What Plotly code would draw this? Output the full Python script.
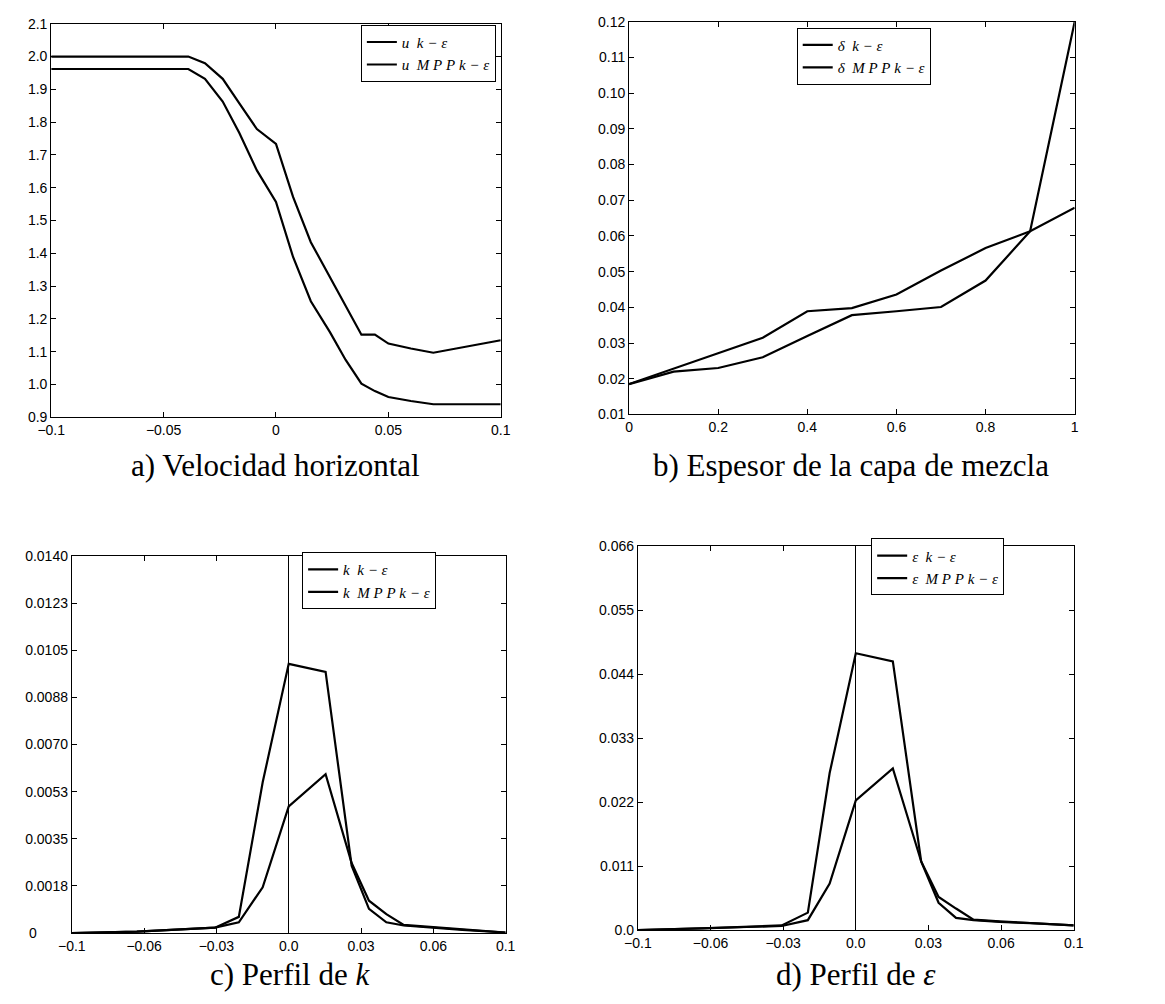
import plotly.graph_objects as go

# ---------------- data ----------------
# a) horizontal velocity
a_x = [-0.1, -0.039, -0.0316, -0.0237, -0.0163, -0.0085, 0.0, 0.0076, 0.0155,
       0.024, 0.031, 0.038, 0.044, 0.05, 0.06, 0.07, 0.1]
a_u_ke = [1.962, 1.962, 1.932, 1.863, 1.767, 1.653, 1.557, 1.389, 1.254,
          1.160, 1.075, 1.003, 0.980, 0.962, 0.950, 0.940, 0.940]
a_u_mpp = [2.0, 2.0, 1.98, 1.932, 1.857, 1.779, 1.734, 1.572, 1.434,
           1.329, 1.240, 1.152, 1.152, 1.125, 1.110, 1.097, 1.135]

# b) mixing layer thickness
b_x = [0.0, 0.1, 0.2, 0.3, 0.4, 0.5, 0.6, 0.7, 0.8, 0.9, 1.0]
b_d_ke = [0.0185, 0.0228, 0.0272, 0.0315, 0.0389, 0.0398, 0.0436, 0.0503, 0.0566, 0.0613, 0.0679]
b_d_mpp = [0.0185, 0.0220, 0.0230, 0.0260, 0.0320, 0.0378, 0.0389, 0.0401, 0.0475, 0.0613, 0.1200]

# c) profile of k
c_x = [-0.1, -0.07, -0.034, -0.023, -0.012, 0.0, 0.017, 0.029, 0.037, 0.045, 0.053, 0.066, 0.08, 0.1]
c_k_ke = [0.0, 0.00005, 0.0002, 0.0006, 0.0056, 0.0100, 0.0097, 0.0025, 0.0009, 0.0004, 0.00028, 0.0002, 0.00012, 0.00002]
c_k_mpp = [0.0, 0.00005, 0.0002, 0.0004, 0.0017, 0.0047, 0.0059, 0.0026, 0.0012, 0.0007, 0.0003, 0.00022, 0.00015, 0.00002]

# d) profile of epsilon
d_x = [-0.1, -0.07, -0.034, -0.022, -0.012, 0.0, 0.017, 0.030, 0.038, 0.046, 0.054, 0.066, 0.08, 0.1]
d_e_ke = [0.0, 0.0003, 0.0008, 0.0030, 0.0270, 0.0476, 0.0462, 0.0118, 0.0047, 0.0021, 0.0017, 0.0014, 0.0012, 0.0008]
d_e_mpp = [0.0, 0.0003, 0.0007, 0.0017, 0.0080, 0.0223, 0.0278, 0.0118, 0.0057, 0.0037, 0.0018, 0.0015, 0.0012, 0.0008]

# tick labels
a_xticks = [-0.1, -0.05, 0.0, 0.05, 0.1]
a_xtext = ["\u22120.1", "\u22120.05", "0", "0.05", "0.1"]
a_yticks = [0.9, 1.0, 1.1, 1.2, 1.3, 1.4, 1.5, 1.6, 1.7, 1.8, 1.9, 2.0, 2.1]
b_xticks = [0, 0.2, 0.4, 0.6, 0.8, 1.0]
b_xtext = ["0", "0.2", "0.4", "0.6", "0.8", "1"]
b_yticks = [0.01, 0.02, 0.03, 0.04, 0.05, 0.06, 0.07, 0.08, 0.09, 0.10, 0.11, 0.12]
cd_xticks = [-0.1, -0.1 + 0.2 / 6, -0.1 + 0.4 / 6, 0.0, 0.2 / 6, 0.4 / 6, 0.1]
cd_xtext = ["\u22120.1", "\u22120.06", "\u22120.03", "0.0", "0.03", "0.06", "0.1"]
c_yticks = [0.0, 0.00175, 0.0035, 0.00525, 0.007, 0.00875, 0.0105, 0.01225, 0.014]
c_ytext = ["0\u2007\u2007\u2007\u2007", "0.0018", "0.0035", "0.0053", "0.0070", "0.0088", "0.0105", "0.0123", "0.0140"]
d_yticks = [0.0, 0.011, 0.022, 0.033, 0.044, 0.055, 0.066]
d_ytext = ["0.0", "0.011", "0.022", "0.033", "0.044", "0.055", "0.066"]

titles = ["a) Velocidad horizontal", "b) Espesor de la capa de mezcla",
          "c) Perfil de <i>k</i>", "d) Perfil de <i>\u03b5</i>"]
NB = "\u00a0"
names_a = [f"<i>u{NB}{NB}k{NB}\u2212{NB}\u03b5</i>", f"<i>u{NB}{NB}M{NB}P{NB}P{NB}k{NB}\u2212{NB}\u03b5</i>"]
names_b = [f"<i>\u03b4{NB}{NB}k{NB}\u2212{NB}\u03b5</i>", f"<i>\u03b4{NB}{NB}M{NB}P{NB}P{NB}k{NB}\u2212{NB}\u03b5</i>"]
names_c = [f"<i>k{NB}{NB}k{NB}\u2212{NB}\u03b5</i>", f"<i>k{NB}{NB}M{NB}P{NB}P{NB}k{NB}\u2212{NB}\u03b5</i>"]
names_d = [f"<i>\u03b5{NB}{NB}k{NB}\u2212{NB}\u03b5</i>", f"<i>\u03b5{NB}{NB}M{NB}P{NB}P{NB}k{NB}\u2212{NB}\u03b5</i>"]

# ---------------- layout helpers ----------------
W, H = 1165, 1004

def dom_x(x0, x1):
    return [x0 / W, x1 / W]

def dom_y(top, bottom):
    return [1 - bottom / H, 1 - top / H]

# pixel boxes: (left, right, top, bottom)
boxes = [(38, 497, 16, 416), (628, 1083, 14, 413), (59, 502, 557, 940), (637, 1082, 547, 937)]

tickfont = dict(family="Liberation Sans, Arial, sans-serif", size=14, color="black")
LINE = dict(color="black", width=2.2)

fig = go.Figure()

series = [
    (a_x, a_u_ke, a_u_mpp, names_a),
    (b_x, b_d_ke, b_d_mpp, names_b),
    (c_x, c_k_ke, c_k_mpp, names_c),
    (d_x, d_e_ke, d_e_mpp, names_d),
]
for i, (xs, y1, y2, nm) in enumerate(series):
    ax = "" if i == 0 else str(i + 1)
    lg = "legend" if i == 0 else "legend" + str(i + 1)
    fig.add_trace(go.Scatter(x=xs, y=y1, mode="lines", line=LINE, name=nm[0],
                             xaxis="x" + ax, yaxis="y" + ax, legend=lg))
    fig.add_trace(go.Scatter(x=xs, y=y2, mode="lines", line=LINE, name=nm[1],
                             xaxis="x" + ax, yaxis="y" + ax, legend=lg))

def axis(domain, rng, tickvals, ticktext=None, anchor=None, zeroline=False, fmt=None):
    d = dict(domain=domain, range=rng, tickvals=tickvals, showgrid=False,
             showline=True, linecolor="black", linewidth=1, mirror="ticks",
             ticks="inside", ticklen=5, tickwidth=1, tickcolor="black",
             tickfont=tickfont, anchor=anchor, zeroline=zeroline,
             zerolinecolor="black", zerolinewidth=1, fixedrange=True)
    if ticktext is not None:
        d["ticktext"] = ticktext
    if fmt is not None:
        d["tickformat"] = fmt
    return d

lay = {}
# a
l, r, t, b = boxes[0]
lay["xaxis"] = axis(dom_x(l, r), [-0.1, 0.1], a_xticks, a_xtext, anchor="y")
lay["yaxis"] = axis(dom_y(t, b), [0.9, 2.1], a_yticks, anchor="x", fmt=".1f")
# b
l, r, t, b = boxes[1]
lay["xaxis2"] = axis(dom_x(l, r), [0, 1], b_xticks, b_xtext, anchor="y2")
lay["yaxis2"] = axis(dom_y(t, b), [0.01, 0.12], b_yticks, anchor="x2", fmt=".2f")
# c
l, r, t, b = boxes[2]
lay["xaxis3"] = axis(dom_x(l, r), [-0.1, 0.1], cd_xticks, cd_xtext, anchor="y3", zeroline=True)
lay["yaxis3"] = axis(dom_y(t, b), [0, 0.014], c_yticks, c_ytext, anchor="x3")
# d
l, r, t, b = boxes[3]
lay["xaxis4"] = axis(dom_x(l, r), [-0.1, 0.1], cd_xticks, cd_xtext, anchor="y4", zeroline=True)
lay["yaxis4"] = axis(dom_y(t, b), [0, 0.066], d_yticks, d_ytext, anchor="x4")

legfont = dict(family="Liberation Serif, Times New Roman, serif", size=15, color="black")

def legend(x_right, y_top):
    return dict(x=x_right / W, y=1 - y_top / H, xanchor="right", yanchor="top",
                bgcolor="white", bordercolor="black", borderwidth=1,
                font=legfont, itemwidth=30, tracegroupgap=0,
                traceorder="normal")

lay["legend"] = legend(492, 17)
lay["legend2"] = legend(936, 20)
lay["legend3"] = legend(431, 553)
lay["legend4"] = legend(1011, 539)

ann = []
title_pos = [(267, 465), (855, 465), (282, 982), (860, 982)]
for txt, (cx, cy) in zip(titles, title_pos):
    ann.append(dict(text=txt, x=cx / W, y=1 - cy / H, xref="paper", yref="paper",
                    xanchor="center", yanchor="middle", showarrow=False,
                    font=dict(family="Liberation Serif, Times New Roman, serif", size=31, color="black")))

fig.update_layout(**lay)
fig.update_layout(width=W, height=H, margin=dict(l=0, r=0, t=0, b=0),
                  paper_bgcolor="white", plot_bgcolor="white",
                  annotations=ann, showlegend=True)

fig.write_html("out.html")
